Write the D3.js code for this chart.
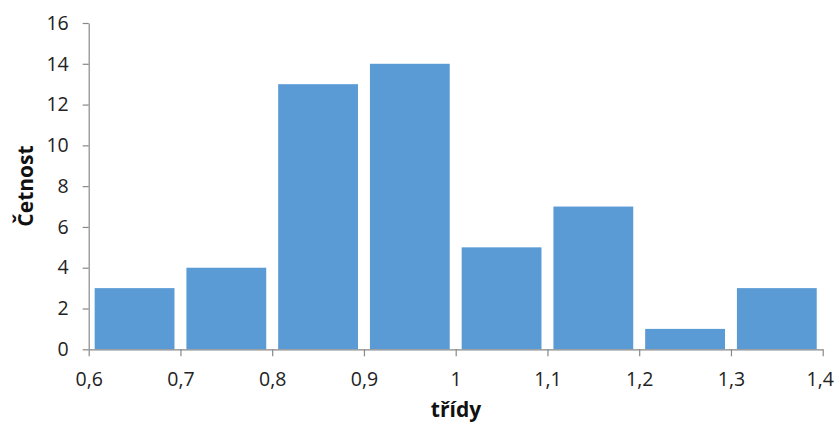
<!DOCTYPE html>
<html><head><meta charset="utf-8">
<script src="https://cdn.jsdelivr.net/npm/d3@7"></script>
<style>body{margin:0;background:#fff}svg{display:block}</style>
</head><body>
<svg id="c" width="835" height="425"></svg>
<script>
const binStarts = [0.6,0.7,0.8,0.9,1.0,1.1,1.2,1.3];
const counts = [3,4,13,14,5,7,1,3];
const xTicks = [0.6,0.7,0.8,0.9,1.0,1.1,1.2,1.3,1.4];
const yTicks = [0,2,4,6,8,10,12,14,16];
const xTitle = "třídy";
const yTitle = "Četnost";

(function(){
const FONT = "'Open Sans', 'Liberation Sans', Arial, sans-serif";
const svg = d3.select("#c");
const mL = 88.7, mR = 822.7, mT = 23, mB = 349.3;
const x = d3.scaleLinear().domain([0.6,1.4]).range([mL,mR]);
const y = d3.scaleLinear().domain([0,16]).range([mB,mT]);
const binW = 0.1, gapFrac = 0.065;

svg.append("g").selectAll("rect").data(binStarts).join("rect")
  .attr("x", (d)=> x(d + binW*gapFrac))
  .attr("width", (d)=> x(d + binW*(1-gapFrac)) - x(d + binW*gapFrac))
  .attr("y", (d,i)=> y(counts[i]))
  .attr("height", (d,i)=> y(0)-y(counts[i]))
  .attr("fill","#5B9BD5");

const fmt = d=> (Math.round(d*10)/10).toString().replace(".",",");
const xa = svg.append("g").attr("transform",`translate(0,${mB})`)
  .call(d3.axisBottom(x).tickValues(xTicks).tickFormat(fmt).tickSize(7).tickSizeOuter(0).tickPadding(16));
const ya = svg.append("g").attr("transform",`translate(${mL},0)`)
  .call(d3.axisLeft(y).tickValues(yTicks).tickSize(6).tickSizeOuter(0).tickPadding(14));
[xa,ya].forEach(a=>{
  a.attr("font-size",null).attr("font-family",null);
  a.select(".domain").attr("stroke","#888").attr("stroke-width",1.2);
  a.selectAll(".tick line").attr("stroke","#888").attr("stroke-width",1.2);
  a.selectAll("text").style("font-size","19.5px").style("font-family",FONT).attr("fill","#222");
});
xa.selectAll(".tick text").filter(d=> d === xTicks[xTicks.length-1]).attr("dx", -3);

svg.append("text").attr("x",456).attr("y",417).attr("text-anchor","middle")
  .style("font-size","21px").style("font-family",FONT).attr("font-weight","bold").attr("fill","#111").text(xTitle);
svg.append("text").attr("transform","translate(33,186) rotate(-90)").attr("text-anchor","middle")
  .style("font-size","21px").style("font-family",FONT).attr("font-weight","bold").attr("fill","#111").text(yTitle);
})();
</script>
</body></html>
